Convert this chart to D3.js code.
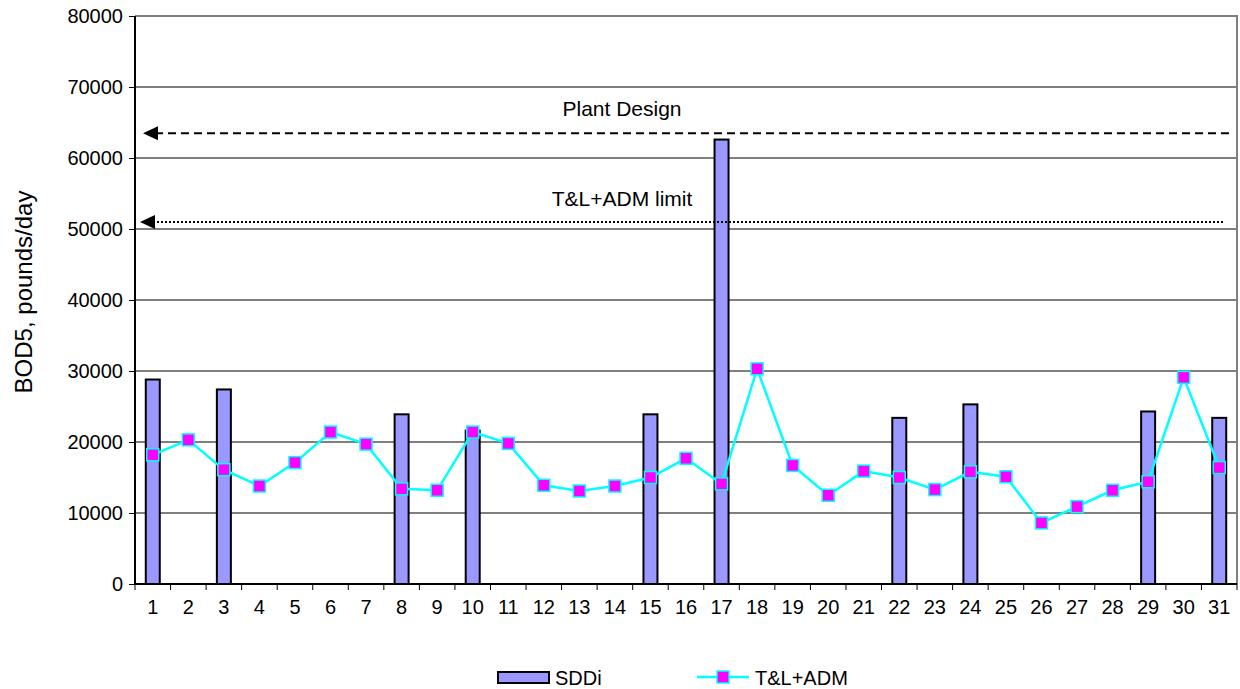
<!DOCTYPE html>
<html>
<head>
<meta charset="utf-8">
<script src="https://cdn.jsdelivr.net/npm/d3@7"></script>
<style>
  body { margin: 0; background: #fff; }
  text { font-family: Arial, "Liberation Sans", sans-serif; }
</style>
</head>
<body>
<svg></svg>
<script>
const days = d3.range(1, 32).map(String);
const sddi = [28800, null, 27400, null, null, null, null, 23900, null, 21600,
  null, null, null, null, 23900, null, 62600, null, null, null,
  null, 23400, null, 25300, null, null, null, null, 24300, null, 23400];
const tlAdm = [18200, 20300, 16100, 13800, 17100, 21400, 19700, 13400, 13200, 21400,
  19800, 13900, 13100, 13800, 15000, 17700, 14100, 30300, 16700, 12500,
  15900, 15000, 13300, 15800, 15100, 8600, 10900, 13200, 14400, 29100, 16400];
const yTicks = [0, 10000, 20000, 30000, 40000, 50000, 60000, 70000, 80000];
const refLines = [
  { label: "Plant Design", value: 63500 },
  { label: "T&L+ADM limit", value: 51000 }
];

const margin = { top: 16, right: 3, bottom: 105, left: 135 };
const outerWidth = 1240;
const outerHeight = 689;
const width = outerWidth - margin.left - margin.right;
const height = outerHeight - margin.top - margin.bottom;

const svg = d3.select("svg")
  .attr("width", outerWidth)
  .attr("height", outerHeight);

const g = svg.append("g")
  .attr("transform", `translate(${margin.left}, ${margin.top})`);

const x = d3.scaleBand()
  .domain(days)
  .range([0, width]);

const y = d3.scaleLinear()
  .domain([0, 80000])
  .range([height, 0]);

// gridlines
g.selectAll(".grid")
  .data(yTicks.slice(1, -1))
  .enter()
  .append("line")
  .attr("x1", 0).attr("x2", width)
  .attr("y1", d => y(d)).attr("y2", d => y(d))
  .attr("stroke", "#000")
  .attr("stroke-width", 1);

// frame top/right
g.append("path")
  .attr("d", `M0,${y(80000)} H${width} V${height}`)
  .attr("fill", "none")
  .attr("stroke", "#808080")
  .attr("stroke-width", 2);

// bars
const cx = d => x(d) + x.bandwidth() / 2;
const barData = days.map((d, i) => ({ day: d, v: sddi[i] })).filter(d => d.v != null);
g.selectAll(".bar")
  .data(barData)
  .enter()
  .append("rect")
  .attr("x", d => cx(d.day) - 7)
  .attr("y", d => y(d.v))
  .attr("width", 14)
  .attr("height", d => height - y(d.v))
  .attr("fill", "#9999FF")
  .attr("stroke", "#000")
  .attr("stroke-width", 2);

// reference lines with arrowheads
const refStyle = [
  { dash: "8,5", tip: 8, end: width - 8, ty: -17 },
  { dash: "2,2", tip: 5, end: width - 14, ty: -16 }
];
refLines.forEach((r, i) => {
  const s = refStyle[i];
  const yy = y(r.value);
  g.append("line")
    .attr("x1", s.end).attr("x2", s.tip + 14)
    .attr("y1", yy).attr("y2", yy)
    .attr("stroke", "#000")
    .attr("stroke-width", 2)
    .attr("stroke-dasharray", s.dash);
  g.append("path")
    .attr("d", `M${s.tip},${yy} L${s.tip + 15},${yy - 7} L${s.tip + 15},${yy + 7} Z`)
    .attr("fill", "#000");
  g.append("text")
    .attr("x", 487)
    .attr("y", yy + s.ty)
    .attr("text-anchor", "middle")
    .attr("font-size", 21)
    .text(r.label);
});

// line series
const lineData = days.map((d, i) => ({ day: d, v: tlAdm[i] }));
g.append("path")
  .datum(lineData)
  .attr("fill", "none")
  .attr("stroke", "#00FFFF")
  .attr("stroke-width", 2.5)
  .attr("d", d3.line().x(d => cx(d.day)).y(d => y(d.v)));

g.selectAll(".pt")
  .data(lineData)
  .enter()
  .append("rect")
  .attr("x", d => cx(d.day) - 6)
  .attr("y", d => y(d.v) - 6)
  .attr("width", 12).attr("height", 12)
  .attr("fill", "#FF00FF")
  .attr("stroke", "#00FFFF")
  .attr("stroke-width", 1.5);

// axes
const yAxis = g.append("g")
  .call(d3.axisLeft(y).tickValues(yTicks).tickSize(6).tickPadding(6).tickFormat(d3.format("d")));
yAxis.select(".domain").attr("stroke", "#000").attr("stroke-width", 2).attr("d", `M0,0V${height}`);
yAxis.selectAll(".tick line").attr("stroke", "#000");
yAxis.selectAll("text").attr("font-size", 20).attr("font-family", "Arial, 'Liberation Sans', sans-serif").attr("fill", "#000");

const xAxis = g.append("g")
  .attr("transform", `translate(0, ${height})`);
xAxis.append("line")
  .attr("x1", 0).attr("x2", width)
  .attr("stroke", "#000").attr("stroke-width", 2);
xAxis.selectAll(".xt")
  .data(days.concat(["end"]))
  .enter()
  .append("line")
  .attr("x1", (d, i) => i * x.step())
  .attr("x2", (d, i) => i * x.step())
  .attr("y1", 0).attr("y2", 6)
  .attr("stroke", "#000");
xAxis.selectAll(".xl")
  .data(days)
  .enter()
  .append("text")
  .attr("x", d => cx(d))
  .attr("y", 30)
  .attr("text-anchor", "middle")
  .attr("font-size", 20)
  .text(d => d);

// y label
svg.append("text")
  .attr("transform", `translate(32, ${margin.top + height / 2 - 8}) rotate(-90)`)
  .attr("text-anchor", "middle")
  .attr("font-size", 24)
  .text("BOD5, pounds/day");

// legend
const lg = svg.append("g");
lg.append("rect")
  .attr("x", 498).attr("y", 672).attr("width", 51).attr("height", 11)
  .attr("fill", "#9999FF").attr("stroke", "#000").attr("stroke-width", 2);
lg.append("text").attr("x", 555).attr("y", 685).attr("font-size", 20).text("SDDi");
lg.append("line")
  .attr("x1", 697).attr("x2", 749).attr("y1", 677).attr("y2", 677)
  .attr("stroke", "#00FFFF").attr("stroke-width", 2.5);
lg.append("rect")
  .attr("x", 717).attr("y", 671).attr("width", 12).attr("height", 12)
  .attr("fill", "#FF00FF").attr("stroke", "#00FFFF").attr("stroke-width", 1.5);
lg.append("text").attr("x", 755).attr("y", 685).attr("font-size", 20).text("T&L+ADM");
</script>
</body>
</html>
